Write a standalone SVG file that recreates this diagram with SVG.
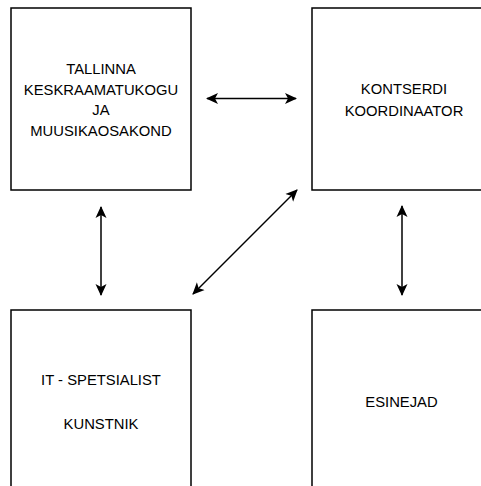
<svg xmlns="http://www.w3.org/2000/svg" width="481" height="486" viewBox="0 0 481 486">
<style>
.box{fill:#fff;stroke:#000;stroke-width:1.5}
.lbl{font-family:"Liberation Sans",Arial,sans-serif;font-size:14.8px;fill:#000;text-anchor:middle}
.conn{stroke:#000;stroke-width:1.5;fill:none;marker-start:url(#ah);marker-end:url(#ah)}
</style>
<defs>
<marker id="ah" markerUnits="userSpaceOnUse" viewBox="0 0 12 12" markerWidth="12" markerHeight="12" refX="11" refY="6" orient="auto-start-reverse">
<path d="M0,0.5 L12,6 L0,11.5 L3,6 Z" fill="#000"/>
</marker>
</defs>
<rect width="481" height="486" fill="#fff"/>
<g id="node-tallinna">
<rect class="box" x="11" y="8" width="180" height="182"/>
<text class="lbl" x="101" y="74">TALLINNA</text>
<text class="lbl" x="101" y="94.5">KESKRAAMATUKOGU</text>
<text class="lbl" x="101" y="115">JA</text>
<text class="lbl" x="101" y="136">MUUSIKAOSAKOND</text>
</g>
<g id="node-kontserdi">
<rect class="box" x="312" y="8" width="184" height="182"/>
<text class="lbl" x="404" y="94">KONTSERDI</text>
<text class="lbl" x="404" y="116">KOORDINAATOR</text>
</g>
<g id="node-it">
<rect class="box" x="11" y="310" width="180" height="190"/>
<text class="lbl" x="101" y="385">IT - SPETSIALIST</text>
<text class="lbl" x="101" y="429">KUNSTNIK</text>
</g>
<g id="node-esinejad">
<rect class="box" x="312" y="310" width="184" height="190"/>
<text class="lbl" x="401.5" y="407">ESINEJAD</text>
</g>
<g id="connectors">
<line class="conn" x1="207" y1="98.5" x2="296" y2="98.5"/>
<line class="conn" x1="101" y1="207" x2="101" y2="295"/>
<line class="conn" x1="402" y1="206" x2="402" y2="295"/>
<line class="conn" x1="297" y1="190" x2="193" y2="294"/>
</g>
</svg>
